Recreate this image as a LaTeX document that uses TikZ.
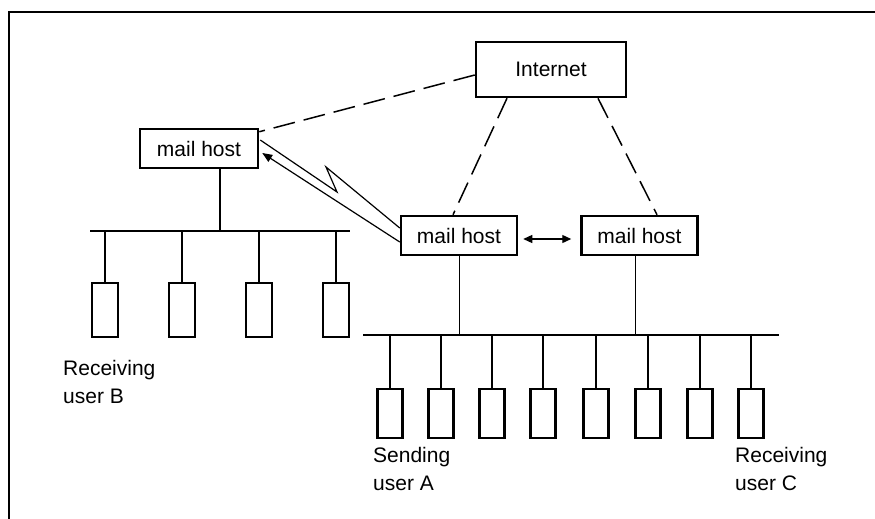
\documentclass[tikz,border=0pt]{standalone}
\usepackage{fontspec}
\setmainfont{Liberation Sans}
\usetikzlibrary{arrows.meta,calc}

\begin{document}
\begin{tikzpicture}[x=1pt,y=-1pt,
  hostbox/.style={draw,line width=2.5pt,minimum width=#1,minimum height=39pt,inner sep=0pt,
    font=\fontsize{21}{24}\selectfont},
  hostbox/.default=117pt,
  userbox/.style={draw,line width=2.3pt,minimum width=25pt,inner sep=0pt},
  bus/.style={line width=2.5pt},
  drop/.style={line width=2.3pt},
  thinlink/.style={line width=1pt},
  wan/.style={line width=1.5pt,dash pattern=on 22pt off 9pt},
  bolt/.style={line width=1.2pt,line join=miter},
  caption/.style={align=left,anchor=north west,inner sep=0pt,
    font=\fontsize{21}{28.5}\selectfont}]

\useasboundingbox (0,0) rectangle (875,519);

% outer frame (top and left edges)
\draw[line width=2pt] (9,519) -- (9,12) -- (875,12);

% hosts
\node[hostbox=150pt,minimum height=55pt] (inet) at (551,69.5) {Internet};
\node[hostbox=118pt] (lh) at (199,148.5) {mail host};
\node[hostbox=116pt] (mh2) at (459,235.5) {mail host};
\node[hostbox=116pt] (mh3) at (639.5,235.5) {mail host};

% Internet links
\draw[wan] ([yshift=-5.5pt]inet.west) -- ([yshift=-4pt]lh.north east);
\draw[wan] ([xshift=-44pt]inet.south) -- ([xshift=-6pt]mh2.north);
\draw[wan] ([xshift=47pt]inet.south) -- ([xshift=17.5pt]mh3.north);

% host to host
\draw[line width=1.3pt,{Triangle[length=9pt,width=8pt]}-{Triangle[length=9pt,width=8pt]}]
  ([xshift=5pt,yshift=-3.5pt]mh2.east) -- ([xshift=-9pt,yshift=-3.5pt]mh3.west);

% lightning-shaped transfer arrow
\coordinate (k1) at (337,192);
\coordinate (k2) at (326,167);
\draw[bolt] ([yshift=7.5pt]mh2.west) -- (k2) -- (k1) -- ([xshift=1pt,yshift=8.5pt]lh.east);
\draw[bolt,-{Triangle[length=10pt,width=8pt]}] ([yshift=-6.5pt]mh2.west) -- ([xshift=3pt,yshift=-4.5pt]lh.east);

% left LAN
\coordinate (lbusL) at (90,231);
\coordinate (lbusR) at (350,231);
\draw[bus] (lbusL) -- (lbusR);
\draw[line width=2.3pt] ([xshift=21pt]lh.south) -- ([xshift=21pt]lh.south |- lbusL);
\foreach \i/\x in {1/105,2/182,3/259,4/336}{
  \node[userbox,minimum width=26pt,minimum height=54pt] (b\i) at (\x,310) {};
  \draw[drop] (b\i.north) -- (b\i.north |- lbusL);
}

% right LAN
\coordinate (rbusL) at (363,335);
\coordinate (rbusR) at (779,335);
\draw[bus] (rbusL) -- (rbusR);
\draw[thinlink] (mh2.south) -- (mh2.south |- rbusL);
\draw[thinlink] ([xshift=-4.5pt]mh3.south) -- ([xshift=-4.5pt]mh3.south |- rbusL);
\foreach \i/\x in {1/390,2/441,3/492,4/543,5/596,6/648,7/700,8/751}{
  \node[userbox,minimum height=49pt] (u\i) at (\x,413.5) {};
  \draw[drop] (u\i.north) -- (u\i.north |- rbusL);
}

% captions
\node[caption] (capB) at (63,360) {Receiving\\user B};
\node[caption] (capA) at (373,447) {Sending\\user A};
\node[caption] (capC) at (735,447) {Receiving\\user C};
\end{tikzpicture}
\end{document}
